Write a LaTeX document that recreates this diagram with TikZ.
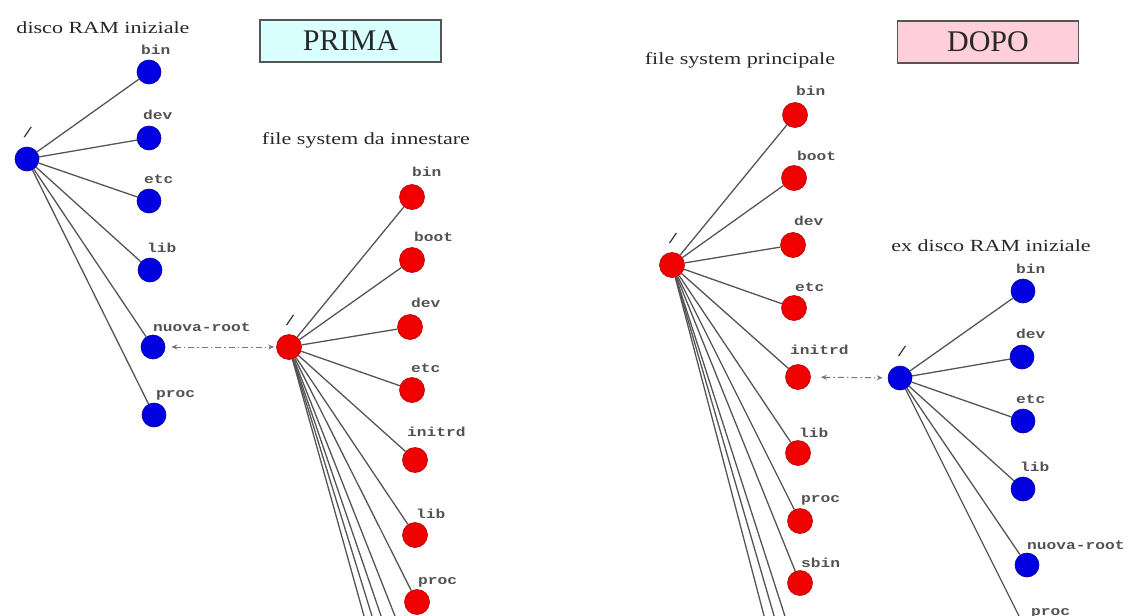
\documentclass[tikz,border=0pt]{standalone}
\usepackage{fontspec}
\setmainfont{Liberation Serif}
\newfontfamily\stretchserif[FakeStretch=1.3]{Liberation Serif}
\newfontfamily\lblmono[FakeStretch=1.25]{Liberation Mono}
\usetikzlibrary{arrows.meta}
\definecolor{primafill}{RGB}{218,255,255}
\definecolor{dopofill}{RGB}{255,208,220}
\definecolor{nodeblue}{RGB}{0,0,225}
\definecolor{nodered}{RGB}{240,0,0}
\definecolor{linegray}{RGB}{85,85,85}
\definecolor{txtgray}{RGB}{40,40,40}
\tikzset{
  bdot/.style={circle,fill=nodeblue,draw=nodeblue!70!black,line width=0.6pt,minimum size=24pt,inner sep=0pt},
  rdot/.style={circle,fill=nodered,draw=nodered!75!black,line width=0.6pt,minimum size=25pt,inner sep=0pt},
  lbl/.style={anchor=base west,inner sep=0pt,font=\lblmono\bfseries\fontsize{13}{13}\selectfont,text=txtgray!80},
  slash/.style={anchor=base,inner sep=0pt,font=\lblmono\fontsize{14}{14}\selectfont,text=txtgray},
  heading/.style={inner sep=0pt,font=\stretchserif\fontsize{17}{17}\selectfont,text=txtgray},
  titlebox/.style={draw=linegray,line width=1.4pt,minimum width=181pt,minimum height=42pt,inner sep=0pt,font=\fontsize{30}{30}\selectfont,text=txtgray},
  edge/.style={draw=linegray,line width=1.3pt},
  mountarrow/.style={draw=linegray!80,line width=1pt,dash pattern=on 6pt off 3pt on 1.5pt off 3pt,{Stealth[length=6pt,width=5pt]}-{Stealth[length=6pt,width=5pt]}}
}
\begin{document}
\begin{tikzpicture}[x=1pt,y=-1pt]
\useasboundingbox (0,0) rectangle (1128,616);
\fill[white] (0,0) rectangle (1128,616);
\clip (0,0) rectangle (1128,616);

% ---------------- PRIMA ----------------
\node[titlebox,fill=primafill] (prima) at (350.5,41) {PRIMA};
\node[heading] (hram) at (103,28) {disco RAM iniziale};
\node[heading] (hinn) at (366,140) {file system da innestare};

% blue tree (initial RAM disk)
\node[bdot] (br) at (27,159) {};
\node[slash] (brs) at (28,137) {/};
\node[bdot] (bbin) at (149,72) {};
\node[bdot] (bdev) at (149,138) {};
\node[bdot] (betc) at (149,201) {};
\node[bdot] (blib) at (150,270) {};
\node[bdot] (bnr) at (153,347) {};
\node[bdot] (bproc) at (154,415) {};
\node[lbl] (lbbin) at (141,54) {bin};
\node[lbl] (lbdev) at (143,119) {dev};
\node[lbl] (lbetc) at (144,183) {etc};
\node[lbl] (lblib) at (147,252) {lib};
\node[lbl] (lbnr) at (153,331) {nuova-root};
\node[lbl] (lbproc) at (156,397) {proc};
\foreach \c in {bbin,bdev,betc,blib,bnr,bproc} \draw[edge] (br) -- (\c);

% red tree (file system to mount)
\node[rdot] (rr) at (289,347) {};
\node[slash] (rrs) at (290,325) {/};
\node[rdot] (rbin) at (412,197) {};
\node[rdot] (rboot) at (412,260) {};
\node[rdot] (rdev) at (410,327) {};
\node[rdot] (retc) at (412,390) {};
\node[rdot] (rinit) at (415,460) {};
\node[rdot] (rlib) at (415,535) {};
\node[rdot] (rproc) at (417,602) {};
\coordinate (rx1) at (417,672);
\coordinate (rx2) at (417,721);
\coordinate (rx3) at (417,762);
\coordinate (rx4) at (417,806);
\node[lbl] (lrbin) at (412,176) {bin};
\node[lbl] (lrboot) at (414,241) {boot};
\node[lbl] (lrdev) at (411,307) {dev};
\node[lbl] (lretc) at (411,372) {etc};
\node[lbl] (lrinit) at (407,436) {initrd};
\node[lbl] (lrlib) at (416,518) {lib};
\node[lbl] (lrproc) at (418,584) {proc};
\foreach \c in {rbin,rboot,rdev,retc,rinit,rlib,rproc} \draw[edge] (rr) -- (\c);
\foreach \c in {rx1,rx2,rx3,rx4} \draw[edge] (rr) -- (\c);

\draw[mountarrow,shorten <=6pt,shorten >=2pt] (bnr) -- (rr);

% ---------------- DOPO ----------------
\node[titlebox,fill=dopofill] (dopo) at (988,42) {DOPO};
\node[heading] (hprinc) at (740,60) {file system principale};
\node[heading] (hex) at (991,246) {ex disco RAM iniziale};

% red tree (main file system)
\node[rdot] (pr) at (672,265) {};
\node[slash] (prs) at (673,243) {/};
\node[rdot] (pbin) at (795,115) {};
\node[rdot] (pboot) at (794,178) {};
\node[rdot] (pdev) at (793,245) {};
\node[rdot] (petc) at (794,308) {};
\node[rdot] (pinit) at (798,377) {};
\node[rdot] (plib) at (798,453) {};
\node[rdot] (pproc) at (800,521) {};
\node[rdot] (psbin) at (800,583) {};
\coordinate (px1) at (800,663);
\coordinate (px2) at (800,705);
\coordinate (px3) at (800,753);
\node[lbl] (lpbin) at (796,95) {bin};
\node[lbl] (lpboot) at (797,160) {boot};
\node[lbl] (lpdev) at (794,225) {dev};
\node[lbl] (lpetc) at (795,291) {etc};
\node[lbl] (lpinit) at (790,354) {initrd};
\node[lbl] (lplib) at (799,437) {lib};
\node[lbl] (lpproc) at (801,502) {proc};
\node[lbl] (lpsbin) at (801,567) {sbin};
\foreach \c in {pbin,pboot,pdev,petc,pinit,plib,pproc,psbin} \draw[edge] (pr) -- (\c);
\foreach \c in {px1,px2,px3} \draw[edge] (pr) -- (\c);

% blue tree (former RAM disk)
\node[bdot] (er) at (900,378) {};
\node[slash] (ers) at (902,356) {/};
\node[bdot] (ebin) at (1023,291) {};
\node[bdot] (edev) at (1022,357) {};
\node[bdot] (eetc) at (1023,421) {};
\node[bdot] (elib) at (1023,489) {};
\node[bdot] (enr) at (1027,565) {};
\node[bdot] (eproc) at (1028,634) {};
\node[lbl] (lebin) at (1016,273) {bin};
\node[lbl] (ledev) at (1016,338) {dev};
\node[lbl] (leetc) at (1016,403) {etc};
\node[lbl] (lelib) at (1020,471) {lib};
\node[lbl] (lenr) at (1027,549) {nuova-root};
\node[lbl] (leproc) at (1031,615) {proc};
\foreach \c in {ebin,edev,eetc,elib,enr,eproc} \draw[edge] (er) -- (\c);

\draw[mountarrow,shorten <=10pt,shorten >=5pt] (pinit) -- (er);
\end{tikzpicture}
\end{document}
